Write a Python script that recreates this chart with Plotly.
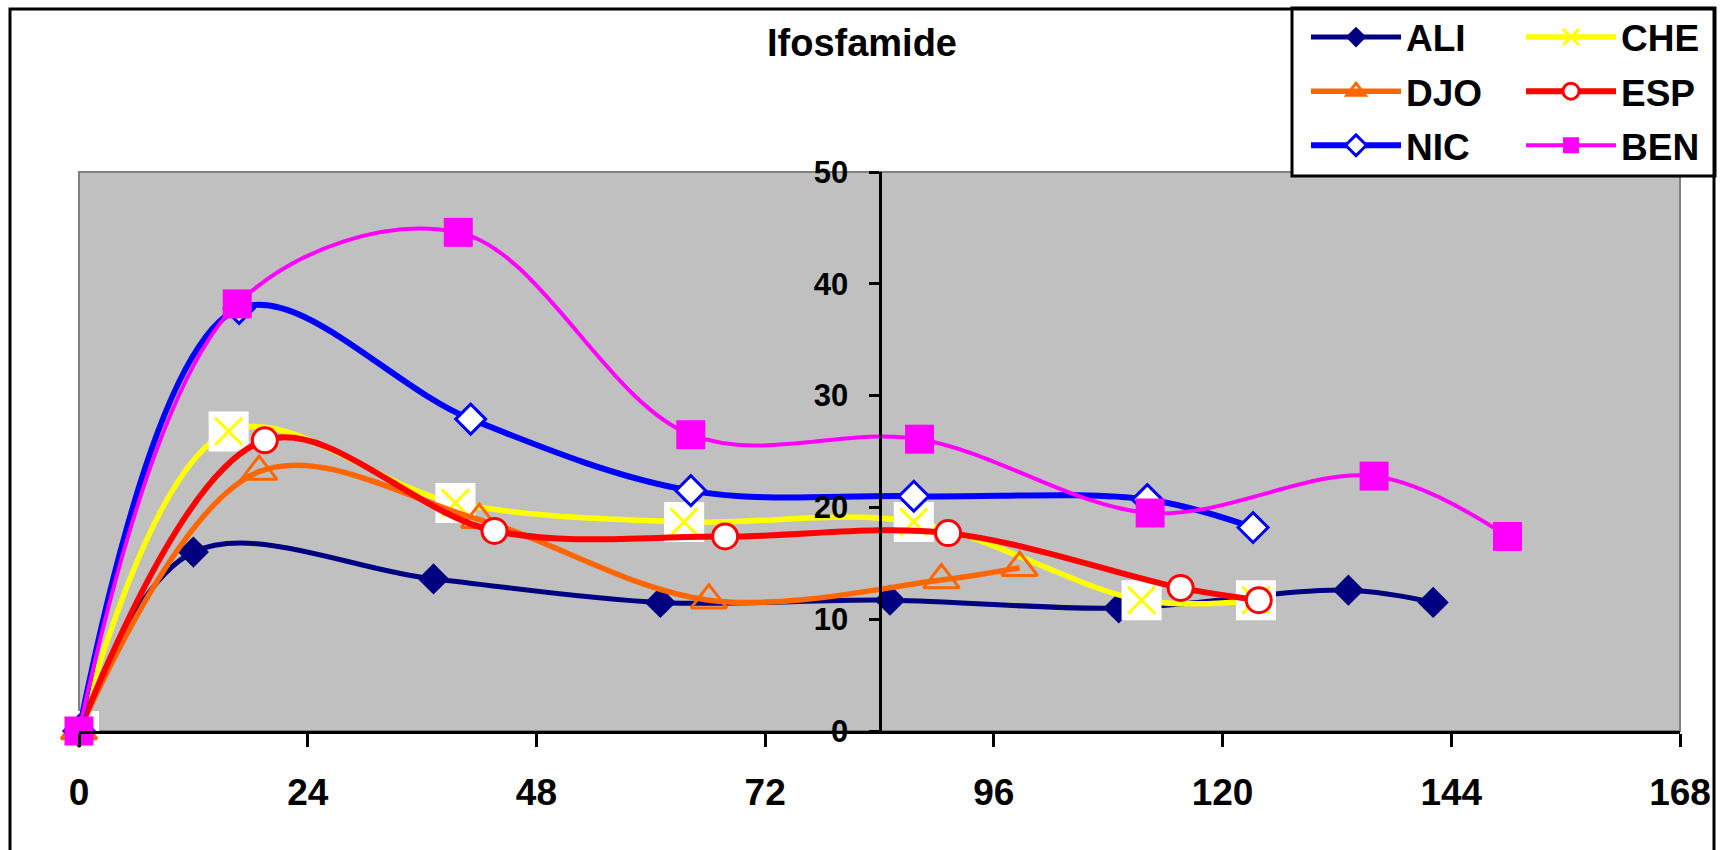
import plotly.graph_objects as go

# Ifosfamide concentration vs. time (hours) for six patients
hours_ali = [0, 12.0, 37.2, 61.0, 85.1, 109.1, 133.2, 142.1]
conc_ali = [0, 16.0, 13.6, 11.5, 11.7, 11.0, 12.6, 11.5]

hours_che = [0, 15.7, 39.5, 63.5, 87.6, 111.5, 123.5]
conc_che = [0, 26.8, 20.4, 18.7, 18.7, 11.7, 11.7]

hours_djo = [0, 18.9, 42.0, 66.1, 90.5, 98.7]
conc_djo = [0, 23.2, 18.9, 11.7, 13.5, 14.6]

hours_esp = [0, 19.5, 43.6, 67.8, 91.2, 115.6, 123.8]
conc_esp = [0, 26.0, 17.9, 17.4, 17.7, 12.8, 11.7]

hours_nic = [0, 16.8, 41.1, 64.2, 87.6, 112.1, 123.2]
conc_nic = [0, 37.8, 27.9, 21.5, 21.0, 20.7, 18.2]

hours_ben = [0, 16.6, 39.8, 64.2, 88.2, 112.4, 135.9, 149.9]
conc_ben = [0, 38.2, 44.6, 26.5, 26.1, 19.5, 22.8, 17.4]

x_ticks = [0, 24, 48, 72, 96, 120, 144, 168]
y_ticks = [0, 10, 20, 30, 40, 50]

W, H = 1727, 850
ML, MR, MT, MB = 79, 47, 172, 119
PW, PH = W - ML - MR, H - MT - MB


def px_x(px):
    return (px - ML) / PW


def px_y(py):
    return (H - MB - py) / PH


FONT = "Liberation Sans, Arial, sans-serif"
SPLINE = dict(shape="spline", smoothing=1)

fig = go.Figure()

# ALI
fig.add_trace(go.Scatter(
    x=hours_ali, y=conc_ali, name="ALI", mode="lines+markers",
    line=dict(color="#000080", width=5, **SPLINE),
    marker=dict(symbol="diamond", size=24, color="#000080"),
    legend="legend", legendgroup="ALI", cliponaxis=False))

# CHE: line with X markers, white square backgrounds, then X on top
fig.add_trace(go.Scatter(
    x=hours_che, y=conc_che, name="CHE", mode="lines+markers",
    line=dict(color="#FFFF00", width=5.5, **SPLINE),
    marker=dict(symbol="x-thin-open", size=16, color="#FFFF00",
                line=dict(color="#FFFF00", width=3)),
    legend="legend2", legendgroup="CHE", cliponaxis=False))
fig.add_trace(go.Scatter(
    x=hours_che, y=conc_che, name="CHE", mode="markers", showlegend=False,
    marker=dict(symbol="square", size=40, color="white", line=dict(width=0)),
    legend="legend2", legendgroup="CHE", cliponaxis=False))
fig.add_trace(go.Scatter(
    x=hours_che, y=conc_che, name="CHE", mode="markers", showlegend=False,
    marker=dict(symbol="x-thin-open", size=27, color="#FFFF00",
                line=dict(color="#FFFF00", width=3)),
    legend="legend2", legendgroup="CHE", cliponaxis=False))

# DJO
fig.add_trace(go.Scatter(
    x=hours_djo, y=conc_djo, name="DJO", mode="lines+markers",
    line=dict(color="#FF6600", width=5.5, **SPLINE),
    marker=dict(symbol="triangle-up-open", size=31, color="#FF6600",
                line=dict(color="#FF6600", width=3)),
    legend="legend", legendgroup="DJO", cliponaxis=False))

# ESP
fig.add_trace(go.Scatter(
    x=hours_esp, y=conc_esp, name="ESP", mode="lines+markers",
    line=dict(color="#FF0000", width=6, **SPLINE),
    marker=dict(symbol="circle", size=25, color="white",
                line=dict(color="#FF0000", width=3)),
    legend="legend2", legendgroup="ESP", cliponaxis=False))

# NIC
fig.add_trace(go.Scatter(
    x=hours_nic, y=conc_nic, name="NIC", mode="lines+markers",
    line=dict(color="#0000FF", width=6, **SPLINE),
    marker=dict(symbol="diamond", size=23, color="white",
                line=dict(color="#0000FF", width=3)),
    legend="legend", legendgroup="NIC", cliponaxis=False))

# BEN
fig.add_trace(go.Scatter(
    x=hours_ben, y=conc_ben, name="BEN", mode="lines+markers",
    line=dict(color="#FF00FF", width=4, **SPLINE),
    marker=dict(symbol="square", size=29, color="#FF00FF"),
    legend="legend2", legendgroup="BEN", cliponaxis=False))

legend_font = dict(family=FONT, size=37, color="black", weight="bold")
legend_common = dict(
    xref="container", yref="container", xanchor="left", yanchor="top",
    bgcolor="rgba(0,0,0,0)", borderwidth=0, font=legend_font,
    itemwidth=90, tracegroupgap=3, orientation="v", itemclick=False,
    itemdoubleclick=False)

fig.update_layout(
    width=W, height=H,
    margin=dict(l=ML, r=MR, t=MT, b=MB, autoexpand=False),
    paper_bgcolor="white", plot_bgcolor="#C0C0C0",
    title=dict(text="<b>Ifosfamide</b>", x=862 / W, y=1 - 43 / H,
               xref="container", yref="container",
               xanchor="center", yanchor="middle",
               font=dict(family=FONT, size=38, color="black")),
    legend=dict(x=1306 / W, y=1 - 6.5 / H, **legend_common),
    legend2=dict(x=1521 / W, y=1 - 6.5 / H, **legend_common),
    xaxis=dict(range=[0, 168], tickvals=x_ticks, ticktext=[str(v) for v in x_ticks],
               showgrid=False, zeroline=False, showline=True, linecolor="black",
               linewidth=3, ticks="outside", ticklen=13, tickwidth=2.5,
               tickcolor="black", ticklabelstandoff=14,
               tickfont=dict(family=FONT, size=37, color="black", weight="bold")),
    yaxis=dict(range=[0, 50], tickvals=y_ticks, ticktext=[str(v) for v in y_ticks],
               anchor="free", position=0.5,
               showgrid=False, zeroline=False, showline=True, linecolor="black",
               linewidth=3, ticks="outside", ticklen=10, tickwidth=3,
               tickcolor="black", ticklabelstandoff=14,
               tickfont=dict(family=FONT, size=31, color="black", weight="bold")),
    showlegend=True,
    shapes=[
        # grey frame round the plotting area
        dict(type="rect", xref="paper", yref="paper", x0=0, x1=1, y0=0, y1=1,
             line=dict(color="#808080", width=2), layer="below"),
        # legend box
        dict(type="rect", xref="paper", yref="paper",
             x0=px_x(1292), x1=px_x(1715), y0=px_y(176), y1=px_y(8),
             line=dict(color="black", width=3), fillcolor="white", layer="above"),
        # outer chart border
        dict(type="rect", xref="paper", yref="paper",
             x0=px_x(10), x1=px_x(1714), y0=px_y(870), y1=px_y(9),
             line=dict(color="black", width=3), layer="above"),
    ],
)

fig.write_html("out.html")
